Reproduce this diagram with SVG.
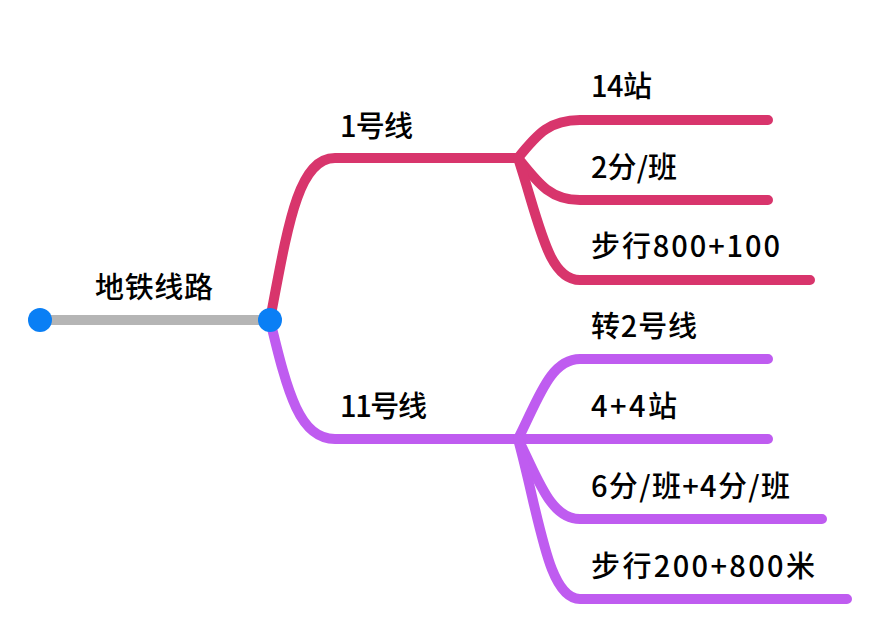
<svg xmlns="http://www.w3.org/2000/svg" width="888" height="640" viewBox="0 0 888 640">
<style>
.t{font-family:"Noto Sans CJK SC","Noto Sans",sans-serif;font-size:29px;font-weight:500;fill:#000}
.ln{fill:none;stroke-width:10;stroke-linecap:round;stroke-linejoin:round}
.pk{stroke:#d8356c}
.pu{stroke:#bf5cf0}
.dot{fill:#0a7ff5}
</style>
<rect width="888" height="640" fill="#fff"/>
<g id="connectors">
<path class="ln" d="M40,320 H270" stroke="#b5b5b5"/>
<path class="ln pk" d="M270,320 C288,225 298,158 335,158 H518"/>
<path class="ln pk" d="M518,158 C538,133 550,120 580,120 H768"/>
<path class="ln pk" d="M518,158 C538,183 550,200 580,200 H768"/>
<path class="ln pk" d="M518,158 C540,225 548,280 580,280 H810"/>
<path class="ln pu" d="M270,320 C288,395 300,439 335,439 H518"/>
<path class="ln pu" d="M518,439 C538,400 550,359 580,359 H768"/>
<path class="ln pu" d="M518,439 H768"/>
<path class="ln pu" d="M518,439 C538,478 550,519 580,519 H822"/>
<path class="ln pu" d="M518,439 C540,520 548,599 580,599 H847"/>
</g>
<g id="root"><circle class="dot" cx="40" cy="320" r="12"/><circle class="dot" cx="270" cy="320" r="12"/><text class="t" x="95" y="298" textLength="118" lengthAdjust="spacing">地铁线路</text></g>
<g id="line1"><text class="t" x="340" y="137" textLength="73" lengthAdjust="spacing">1号线</text></g>
<g id="l1a"><text class="t" x="591" y="97" textLength="61" lengthAdjust="spacing">14站</text></g>
<g id="l1b"><text class="t" x="591" y="178" textLength="86" lengthAdjust="spacing">2分/班</text></g>
<g id="l1c"><text class="t" x="591" y="257" textLength="189" lengthAdjust="spacing">步行800+100</text></g>
<g id="line11"><text class="t" x="340" y="417" textLength="87" lengthAdjust="spacing">11号线</text></g>
<g id="l11a"><text class="t" x="591" y="337" textLength="106" lengthAdjust="spacing">转2号线</text></g>
<g id="l11b"><text class="t" x="591" y="417" textLength="86" lengthAdjust="spacing">4+4站</text></g>
<g id="l11c"><text class="t" x="591" y="497" textLength="199" lengthAdjust="spacing">6分/班+4分/班</text></g>
<g id="l11d"><text class="t" x="591" y="577" textLength="224" lengthAdjust="spacing">步行200+800米</text></g>
</svg>
